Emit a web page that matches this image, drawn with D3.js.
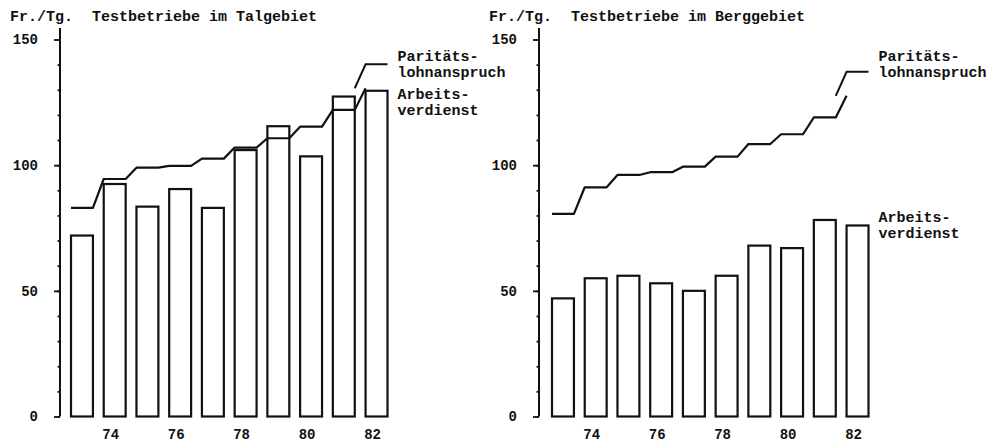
<!DOCTYPE html>
<html>
<head>
<meta charset="utf-8">
<script src="https://cdn.jsdelivr.net/npm/d3@7"></script>
<style>
  body { margin: 0; background: #fff; }
  text { font-family: "Liberation Mono", "DejaVu Sans Mono", monospace; font-weight: bold; fill: #111; }
</style>
</head>
<body>
<svg id="chart" width="992" height="444"></svg>
<script>
// values (Fr. per day)
const years = [73, 74, 75, 76, 77, 78, 79, 80, 81, 82]
const yearLabels = [74, 76, 78, 80, 82]
const majorTicks = [0, 50, 100, 150]
const minorTicks = d3.range(0, 151, 10)

const talVerdienst = [72, 92.5, 83.5, 90.5, 83, 106, 115.5, 103.5, 127.3, 129.6]
const talParitaet = [83, 94.5, 99, 99.7, 102.6, 107, 110.7, 115.3, 122, 130.6]
const bergVerdienst = [47, 55, 56, 53, 50, 56, 68, 67, 78.2, 76]
const bergParitaet = [80.6, 91.2, 96.1, 97.2, 99.4, 103.4, 108.4, 112.3, 119, 127.6]

const panels = [
    { title: 'Testbetriebe im Talgebiet', axisX: 60, barX0: 71, barX1: 387.5,
      verdienst: talVerdienst, paritaet: talParitaet, arbeitsY: [99, 115] },
    { title: 'Testbetriebe im Berggebiet', axisX: 539, barX0: 552, barX1: 868.5,
      verdienst: bergVerdienst, paritaet: bergParitaet, arbeitsY: [222, 238] }
]

const svg = d3.select('#chart')

const y = d3.scaleLinear().domain([0, 150]).range([416.5, 39.5])

panels.forEach(p => {
    const g = svg.append('g')

    const x = d3.scaleBand()
        .domain(years)
        .range([p.barX0, p.barX1])
        .paddingInner(0.33)
        .paddingOuter(0)

    // header
    g.append('text')
        .attr('x', p.axisX - 50)
        .attr('y', 21)
        .style('font-size', '15px')
        .text('Fr./Tg.')
    g.append('text')
        .attr('x', p.axisX + 32)
        .attr('y', 21)
        .style('font-size', '15px')
        .text(p.title)

    // y axis: minor ticks, then major ticks with labels
    const minor = g.append('g')
        .attr('transform', `translate(${p.axisX},0)`)
        .call(d3.axisLeft(y).tickValues(minorTicks).tickSize(2.5).tickFormat(''))
    const major = g.append('g')
        .attr('transform', `translate(${p.axisX},0)`)
        .call(d3.axisLeft(y).tickValues(majorTicks).tickSize(6).tickPadding(16))
    minor.select('.domain').remove()
    major.select('.domain').remove()
    g.selectAll('.tick line').attr('stroke', '#111').attr('stroke-width', 1.8)
    major.selectAll('.tick text')
        .attr('fill', '#111')
        .style('font-size', '14px')
        .style('font-family', '"Liberation Mono", monospace')
        .style('font-weight', 'bold')

    g.append('line')
        .attr('x1', p.axisX).attr('x2', p.axisX)
        .attr('y1', 28).attr('y2', y(0))
        .attr('stroke', '#111')
        .attr('stroke-width', 2)

    // bars
    g.selectAll('rect.bar')
        .data(p.verdienst)
        .enter()
        .append('rect')
        .attr('class', 'bar')
        .attr('x', (d, i) => x(years[i]))
        .attr('y', d => y(d))
        .attr('width', x.bandwidth())
        .attr('height', d => y(0) - y(d))
        .attr('fill', 'none')
        .attr('stroke', '#111')
        .attr('stroke-width', 2.2)

    // Paritätslohn: flat over each year, slanting between years
    const pts = []
    p.paritaet.forEach((v, i) => {
        pts.push([x(years[i]), y(v)])
        if (i < p.paritaet.length - 1) pts.push([x(years[i]) + x.bandwidth(), y(v)])
    })
    g.append('path')
        .attr('d', d3.line()(pts))
        .attr('fill', 'none')
        .attr('stroke', '#111')
        .attr('stroke-width', 2.2)
        .attr('stroke-linejoin', 'round')

    // leader to the label
    const last = years.length - 1
    const yEnd = y(p.paritaet[last])
    const lead = [
        [x(years[last - 1]) + x.bandwidth(), yEnd],
        [x(years[last]), yEnd - 24],
        [x(years[last]) + x.bandwidth(), yEnd - 24]
    ]
    g.append('path')
        .attr('d', d3.line()(lead))
        .attr('fill', 'none')
        .attr('stroke', '#111')
        .attr('stroke-width', 2)

    const lx = p.barX1 + 10
    g.append('text').attr('x', lx).attr('y', 61).style('font-size', '15px').text('Paritäts-')
    g.append('text').attr('x', lx).attr('y', 77).style('font-size', '15px').text('lohnanspruch')
    g.append('text').attr('x', lx).attr('y', p.arbeitsY[0]).style('font-size', '15px').text('Arbeits-')
    g.append('text').attr('x', lx).attr('y', p.arbeitsY[1]).style('font-size', '15px').text('verdienst')

    // year labels
    g.selectAll('text.year')
        .data(yearLabels)
        .enter()
        .append('text')
        .attr('class', 'year')
        .attr('x', d => x(d) + x.bandwidth() / 2 - 4)
        .attr('y', 439)
        .attr('text-anchor', 'middle')
        .style('font-size', '14px')
        .text(d => d)
})
</script>
</body>
</html>
